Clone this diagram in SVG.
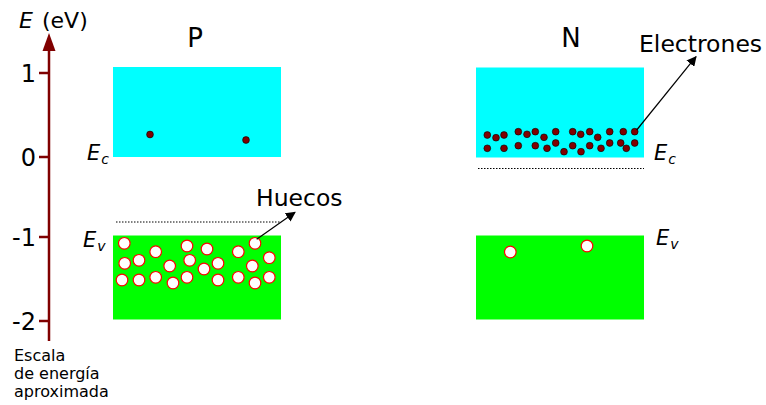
<svg xmlns="http://www.w3.org/2000/svg" width="766" height="405" viewBox="0 0 766 405">
  <defs>
    <marker id="arrowBlack" viewBox="0 0 10 10" refX="9" refY="5" markerWidth="10" markerHeight="10" markerUnits="userSpaceOnUse" orient="auto">
      <path d="M0,0 L10,5 L0,10 z" fill="#000"/>
    </marker>
    <style>
      text { font-family: "DejaVu Sans", "Liberation Sans", sans-serif; fill: #000; }
      .num { font-size: 24px; }
      .lbl { font-size: 23.5px; }
      .big { font-size: 26px; }
      .en { font-size: 21px; font-style: italic; }
      .sub { font-size: 14px; font-style: italic; }
      .small { font-size: 16px; }
      .cb { fill: #00ffff; }
      .vb { fill: #00ff00; }
      .el { fill: #800000; stroke: #000; stroke-width: 0.6; }
      .hole { fill: #fff; stroke: #ff0000; stroke-width: 1.2; }
      .dot { stroke: #000; stroke-width: 1; stroke-dasharray: 1.5 1.5; fill: none; }
      .tick { stroke: #800000; stroke-width: 2.5; }
      .conn { stroke: #000; stroke-width: 1.2; fill: none; }
    </style>
  </defs>

  <!-- energy axis -->
  <g id="axis">
    <line class="tick" x1="49" y1="48" x2="49" y2="341"/>
    <path d="M49,33 L55.5,51 L42.5,51 z" fill="#800000"/>
    <line class="tick" x1="39" y1="73" x2="49" y2="73"/>
    <line class="tick" x1="39" y1="157" x2="49" y2="157"/>
    <line class="tick" x1="39" y1="237" x2="49" y2="237"/>
    <line class="tick" x1="39" y1="321" x2="49" y2="321"/>
    <text class="num" x="36" y="82" text-anchor="end">1</text>
    <text class="num" x="36" y="166" text-anchor="end">0</text>
    <text class="num" x="36" y="246" text-anchor="end">-1</text>
    <text class="num" x="36" y="330" text-anchor="end">-2</text>
    <text x="19" y="28" font-size="22"><tspan font-style="italic">E</tspan><tspan x="42">(eV)</tspan></text>
    <text class="small" x="14" y="361">Escala</text>
    <text class="small" x="14" y="379">de energía</text>
    <text class="small" x="14" y="397">aproximada</text>
  </g>

  <!-- P-type semiconductor -->
  <g id="p-side">
    <text class="big" x="195" y="47" text-anchor="middle">P</text>
    <rect class="cb" x="113" y="67" width="168" height="90"/>
    <rect class="vb" x="113" y="235.5" width="168" height="84"/>
    <line class="dot" x1="116" y1="222" x2="280" y2="222"/>
    <text class="en" x="87" y="160">E<tspan class="sub" dx="1" dy="4">c</tspan></text>
    <text class="en" x="83" y="247">E<tspan class="sub" dx="1" dy="4">v</tspan></text>
    <circle class="el" cx="150" cy="134.5" r="3.4"/>
    <circle class="el" cx="246" cy="140" r="3.4"/>
    <g id="p-holes">
      <circle class="hole" cx="124.3" cy="243.3" r="5.8"/>
      <circle class="hole" cx="124.7" cy="263.3" r="5.8"/>
      <circle class="hole" cx="122" cy="280" r="5.8"/>
      <circle class="hole" cx="139" cy="260.3" r="5.8"/>
      <circle class="hole" cx="139" cy="280" r="5.8"/>
      <circle class="hole" cx="155.7" cy="251.7" r="5.8"/>
      <circle class="hole" cx="155.7" cy="277.3" r="5.8"/>
      <circle class="hole" cx="169.7" cy="266" r="5.8"/>
      <circle class="hole" cx="173" cy="283" r="5.8"/>
      <circle class="hole" cx="187" cy="246" r="5.8"/>
      <circle class="hole" cx="189.7" cy="260.3" r="5.8"/>
      <circle class="hole" cx="187" cy="277.3" r="5.8"/>
      <circle class="hole" cx="207" cy="249" r="5.8"/>
      <circle class="hole" cx="204" cy="269" r="5.8"/>
      <circle class="hole" cx="218" cy="263.3" r="5.8"/>
      <circle class="hole" cx="218" cy="280" r="5.8"/>
      <circle class="hole" cx="238.3" cy="251.7" r="5.8"/>
      <circle class="hole" cx="238.3" cy="277.3" r="5.8"/>
      <circle class="hole" cx="255" cy="243.3" r="5.8"/>
      <circle class="hole" cx="252.3" cy="266" r="5.8"/>
      <circle class="hole" cx="255" cy="283" r="5.8"/>
      <circle class="hole" cx="269.3" cy="257.7" r="5.8"/>
      <circle class="hole" cx="269.3" cy="277.3" r="5.8"/>
    </g>
    <text class="lbl" x="256" y="206">Huecos</text>
  </g>

  <!-- N-type semiconductor -->
  <g id="n-side">
    <text class="big" x="571" y="47" text-anchor="middle">N</text>
    <rect class="cb" x="476" y="67.5" width="168" height="90"/>
    <rect class="vb" x="476" y="235.5" width="168" height="84"/>
    <line class="dot" x1="478" y1="168.5" x2="644" y2="168.5"/>
    <text class="en" x="654" y="160">E<tspan class="sub" dx="1" dy="4">c</tspan></text>
    <text class="en" x="656" y="245">E<tspan class="sub" dx="1" dy="4">v</tspan></text>
    <g id="n-electrons">
      <circle class="el" cx="487.3" cy="135" r="3.4"/>
      <circle class="el" cx="496" cy="137.7" r="3.4"/>
      <circle class="el" cx="504" cy="135" r="3.4"/>
      <circle class="el" cx="518.3" cy="131.7" r="3.4"/>
      <circle class="el" cx="527" cy="134.3" r="3.4"/>
      <circle class="el" cx="535.3" cy="131.7" r="3.4"/>
      <circle class="el" cx="544" cy="137.3" r="3.4"/>
      <circle class="el" cx="555.7" cy="131.7" r="3.4"/>
      <circle class="el" cx="572.7" cy="131.7" r="3.4"/>
      <circle class="el" cx="580.7" cy="134.3" r="3.4"/>
      <circle class="el" cx="589.7" cy="131.7" r="3.4"/>
      <circle class="el" cx="597.7" cy="137.3" r="3.4"/>
      <circle class="el" cx="609.7" cy="131.7" r="3.4"/>
      <circle class="el" cx="623.3" cy="131.7" r="3.4"/>
      <circle class="el" cx="634.7" cy="131.7" r="3.4"/>
      <circle class="el" cx="487.3" cy="148.3" r="3.4"/>
      <circle class="el" cx="504" cy="148.3" r="3.4"/>
      <circle class="el" cx="518.3" cy="145.7" r="3.4"/>
      <circle class="el" cx="535.3" cy="145.7" r="3.4"/>
      <circle class="el" cx="547" cy="148.3" r="3.4"/>
      <circle class="el" cx="555.7" cy="143" r="3.4"/>
      <circle class="el" cx="564" cy="151.7" r="3.4"/>
      <circle class="el" cx="572.7" cy="145.7" r="3.4"/>
      <circle class="el" cx="581" cy="151.7" r="3.4"/>
      <circle class="el" cx="589.7" cy="145.7" r="3.4"/>
      <circle class="el" cx="601" cy="148.3" r="3.4"/>
      <circle class="el" cx="609.7" cy="143" r="3.4"/>
      <circle class="el" cx="620.7" cy="143" r="3.4"/>
      <circle class="el" cx="626.3" cy="148.3" r="3.4"/>
      <circle class="el" cx="634.7" cy="143" r="3.4"/>
    </g>
    <circle class="hole" cx="510.3" cy="252" r="5.8"/>
    <circle class="hole" cx="587" cy="246" r="5.8"/>
    <text class="lbl" x="639" y="52">Electrones</text>
  </g>

  <!-- label pointers -->
  <g id="connectors">
    <line class="conn" x1="256.7" y1="239.3" x2="295" y2="212.3" marker-end="url(#arrowBlack)"/>
    <line class="conn" x1="636.7" y1="130" x2="696" y2="56.7" marker-end="url(#arrowBlack)"/>
  </g>
</svg>
